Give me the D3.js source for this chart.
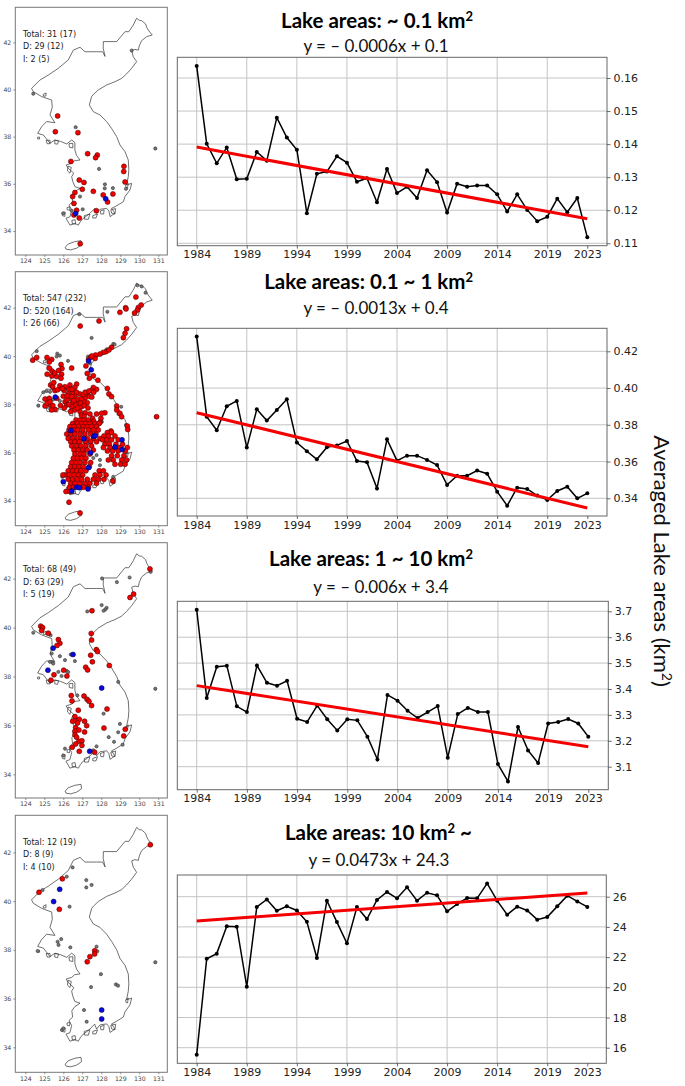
<!DOCTYPE html>
<html><head><meta charset="utf-8">
<script src="https://cdn.jsdelivr.net/npm/d3@7"></script>
<style>html,body{margin:0;padding:0;background:#fff}svg{display:block}</style>
</head><body><svg id="c" width="685" height="1086"></svg>
<script>
const years = d3.range(1984, 2024);
const yearTicks = [1984,1989,1994,1999,2004,2009,2014,2019,2023];
const gridYears = [1984,1989,1994,1999,2004,2009,2014,2019];

const seriesA = [.1636,.1401,.1342,.139,.1294,.1295,.1376,.135,.148,.142,.1383,.1191,.131,.1317,.1363,.1344,.1286,.1297,.1224,.1325,.1252,.1271,.1237,.1321,.1285,.1193,.128,.1271,.1275,.1275,.1248,.1196,.1248,.1201,.1167,.118,.1235,.1194,.1237,.1118];
const seriesB = [.428,.3844,.377,.3901,.393,.3676,.3884,.3823,.3881,.3939,.3703,.3656,.3612,.3678,.3688,.3712,.3603,.3596,.3454,.3721,.3605,.3632,.3632,.3609,.3581,.3473,.3523,.3523,.3551,.3534,.3436,.336,.3458,.3451,.3415,.3391,.344,.3463,.34,.3427];
const seriesC = [3.706,3.365,3.486,3.49,3.333,3.311,3.491,3.424,3.413,3.432,3.285,3.273,3.336,3.283,3.24,3.283,3.279,3.216,3.128,3.377,3.355,3.316,3.288,3.311,3.334,3.135,3.303,3.327,3.311,3.311,3.11,3.043,3.253,3.163,3.114,3.267,3.273,3.284,3.267,3.216];
const seriesD = [15.54,21.89,22.23,24.04,24.01,20.04,25.32,25.82,25.07,25.36,25.09,24.34,21.94,25.74,24.32,22.91,25.32,24.52,25.78,26.31,25.89,26.62,25.74,26.26,26.09,25.03,25.51,25.91,25.89,26.88,25.74,24.81,25.34,25.09,24.48,24.65,25.36,26.07,25.69,25.32];

const trendA = [.1391,.1174], trendB = [.3866,.3347], trendC = [3.413,3.177], trendD = [24.39,26.24];
const ticksA = [.11,.12,.13,.14,.15,.16], ticksB = [.34,.36,.38,.40,.42], ticksC = [3.1,3.2,3.3,3.4,3.5,3.6,3.7], ticksD = [16,18,20,22,24,26];

const coast = [[129.86,43.02],[130.0,42.93],[130.12,42.92],[130.33,42.78],[130.4,42.62],[130.47,42.52],[130.68,42.31],[130.39,42.24],[130.12,42.07],[130.0,41.85],[129.95,41.67],[129.77,41.7],[129.6,41.65],[129.68,41.39],[129.86,41.18],[129.6,40.9],[129.33,40.66],[129.07,40.47],[128.72,40.33],[128.28,40.19],[127.84,39.98],[127.6,39.8],[127.49,39.7],[127.37,39.34],[127.58,39.06],[127.93,38.92],[128.28,38.64],[128.54,38.35],[128.81,38.0],[128.98,37.65],[129.25,37.36],[129.42,37.01],[129.45,36.6],[129.42,36.3],[129.33,35.95],[129.6,36.02],[129.51,35.74],[129.25,35.46],[129.16,35.24],[128.72,35.03],[128.54,34.96],[128.72,34.75],[128.46,34.61],[128.4,34.85],[128.28,34.96],[127.93,34.92],[127.75,34.75],[127.65,34.95],[127.4,34.75],[127.25,34.65],[127.05,34.54],[126.9,34.4],[126.79,34.25],[126.6,34.32],[126.35,34.25],[126.14,34.54],[126.35,34.6],[126.44,34.89],[126.3,35.1],[126.49,35.24],[126.45,35.5],[126.61,35.67],[126.88,35.81],[126.61,35.88],[126.5,36.1],[126.44,36.3],[126.55,36.45],[126.26,36.66],[126.15,36.8],[126.44,36.87],[126.6,36.98],[126.88,37.01],[126.7,37.2],[126.61,37.43],[126.61,37.75],[126.44,37.86],[126.18,37.69],[125.85,37.8],[125.56,37.86],[125.3,37.72],[124.95,38.07],[124.65,38.14],[124.86,38.42],[125.12,38.64],[125.56,38.59],[125.3,38.92],[125.42,39.25],[125.39,39.55],[124.86,39.7],[124.42,39.91],[124.33,40.05],[124.77,40.4],[125.21,40.61],[125.74,40.9],[126.26,41.25],[126.53,41.67],[126.88,41.79],[127.14,41.6],[127.75,41.6],[128.07,41.6],[128.2,41.4],[128.1,41.75],[128.11,42.03],[128.81,42.03],[129.25,42.45],[129.45,42.45],[129.68,42.73]];
const islands = [
 [[126.1,33.31],[126.26,33.45],[126.61,33.55],[126.93,33.59],[126.96,33.41],[126.7,33.27],[126.39,33.2],[126.14,33.23]],
 [[130.8,37.53],[130.9,37.53],[130.9,37.45],[130.8,37.45]],
 [[124.65,37.98],[124.75,37.98],[124.75,37.9],[124.65,37.9]],
 [[125.1,37.85],[125.3,37.85],[125.3,37.7],[125.15,37.7]],
 [[125.55,37.85],[125.75,37.82],[125.7,37.68],[125.55,37.7]],
 [[126.3,37.7],[126.5,37.72],[126.5,37.52],[126.32,37.55]],
 [[126.25,36.75],[126.42,36.7],[126.35,36.45],[126.22,36.55]],
 [[125.93,34.78],[126.1,34.8],[126.08,34.62],[125.95,34.65]],
 [[126.2,35.0],[126.35,35.02],[126.33,34.88],[126.2,34.9]],
 [[126.45,34.45],[126.62,34.48],[126.65,34.3],[126.48,34.3]],
 [[127.1,34.65],[127.4,34.72],[127.32,34.5],[127.12,34.5]],
 [[127.55,34.65],[127.8,34.72],[127.72,34.55],[127.55,34.55]],
 [[127.95,34.85],[128.15,34.9],[128.12,34.72],[127.98,34.72]],
 [[128.5,34.9],[128.75,34.95],[128.72,34.72],[128.55,34.75]],
 [[129.28,35.95],[129.42,36.02],[129.38,35.82],[129.3,35.85]],
 [[124.95,39.8],[125.1,39.85],[125.08,39.72],[124.95,39.72]]
];

const redA = [[125.7,38.88],[125.58,38.21],[126.77,38.17],[127.28,37.28],[127.79,37.22],[127.7,37.11],[126.4,36.95],[129.19,36.74],[129.18,36.52],[129.25,36.08],[126.84,36.16],[127.09,36.06],[127.0,35.77],[127.58,35.68],[126.61,35.63],[126.49,35.46],[128.1,35.53],[128.61,35.57],[126.56,35.17],[128.33,35.23],[126.7,34.88],[127.74,34.86],[126.56,34.68],[126.84,34.55],[126.89,33.46]];
const blueA = [[128.23,35.37],[126.65,34.74]];
const grayA = [[129.6,41.65],[124.42,39.82],[126.65,38.4],[127.88,36.63],[128.19,35.98],[128.18,35.81],[128.61,35.82],[129.3,35.79],[126.88,35.46],[126.44,34.86],[127.02,34.92],[126.0,34.75],[130.84,37.5]];

const redBNorth = [[129.82,42.44],[130.1,42.11],[129.95,42.01],[129.9,41.9],[129.75,41.78],[129.28,42.0],[128.98,41.81],[127.88,41.45],[126.89,41.24],[129.33,41.13],[129.25,40.94],[129.16,40.76],[128.54,40.36],[128.25,40.18],[128.1,40.15],[127.93,40.08],[127.7,40.04],[127.67,39.9],[127.33,39.86],[127.19,39.59],[127.26,39.28],[127.37,39.08],[127.58,39.18],[127.82,39.0],[124.39,39.83],[124.6,39.94],[125.14,39.94],[125.39,39.86],[125.26,39.75],[125.88,39.65],[125.93,39.48],[126.44,39.5],[125.4,39.38],[125.4,39.17],[125.65,39.15],[125.91,39.25],[125.88,39.08],[125.33,38.8],[125.44,38.73],[125.82,38.77],[126.09,38.73],[126.35,38.8],[126.7,38.84],[126.61,38.7],[126.3,38.62],[126.04,38.57],[125.56,38.57],[125.65,38.25],[125.04,38.22],[125.04,37.93],[125.26,38.25],[125.3,37.97],[125.56,37.79],[125.39,37.77],[126.0,38.34],[126.26,38.43],[126.09,38.11],[126.35,38.25],[126.61,38.34],[126.88,38.43],[127.26,38.45],[127.37,38.32],[127.14,38.25],[126.79,38.11],[126.49,38.07],[126.18,37.97],[126.44,37.9],[126.67,37.97],[126.96,37.9],[127.26,38.07],[127.05,38.11],[126.61,37.77],[126.88,37.7],[126.39,37.7],[126.2,38.2],[126.5,38.5],[127.05,38.4],[127.75,38.62],[127.58,38.7],[127.49,38.57],[128.32,38.66],[128.4,38.43],[128.54,38.32],[128.81,37.93],[128.81,37.77],[128.98,37.63],[129.07,37.49],[129.37,37.1],[129.39,36.96],[128.19,37.65],[128.02,37.63],[127.98,37.42],[127.93,37.26],[127.54,37.42],[128.51,36.9],
 [127.45,39.95],[127.5,40.0],[128.4,40.25],[129.3,41.95],[125.25,39.5],[125.15,39.25],[125.55,39.3],[125.75,39.4],[125.5,38.9],[125.7,38.6],[125.95,38.65],[126.2,38.35],[126.45,38.62],[126.45,38.32],[126.7,38.5],[126.75,38.22],[126.95,38.22],[127.15,38.5],[127.35,38.55],[127.5,38.3],[127.6,38.5],[125.15,38.05],[125.45,37.95],[125.3,38.1],[125.85,37.95],[126.05,37.85],[126.3,38.0],[126.55,38.15],[126.9,38.05],[127.1,37.95],[127.3,37.85],[126.75,37.85],[127.4,37.6],[127.15,37.65],[126.95,37.55],[127.75,37.6],[127.6,37.3],[127.1,37.5]];
const redBSouthRows = [
 [37.35,[126.67,126.88,127.09,127.32]],
 [37.21,[126.49,126.74,126.96,127.19,127.4,127.67,127.89]],
 [37.08,[126.35,126.56,126.81,127.05,127.26,127.49,127.75]],
 [36.94,[126.3,126.53,126.75,127.02,127.32,127.58,127.84]],
 [36.77,[126.18,126.39,126.61,126.88,127.14,127.44,127.72]],
 [36.59,[126.26,126.49,126.74,126.96,127.26,127.58,127.93]],
 [36.45,[126.39,126.61,126.84,127.14,127.44,127.75]],
 [36.28,[126.44,126.7,126.93,127.19,127.49]],
 [36.11,[126.56,126.79,127.02,127.26,127.58]],
 [35.94,[126.61,126.88,127.09,127.4]],
 [35.77,[126.53,126.75,126.96,127.19]],
 [35.59,[126.44,126.67,126.88,127.14,127.44]],
 [35.42,[126.39,126.61,126.84,127.05,127.37]],
 [35.25,[126.26,126.49,126.7,126.93,127.19,127.89,128.11]],
 [35.08,[126.09,126.32,126.56,126.79,127.02,127.67,127.93,128.25]],
 [34.9,[126.26,126.49,126.74,126.96,127.26,127.58,127.84,128.14]],
 [34.73,[126.39,126.63,126.88,127.14,127.4,127.75]],
 [34.57,[126.32,126.53,127.05,127.32]],
 [34.39,[126.14,126.35]]
];
const redBEastRows = [
 [36.83,[128.32,128.54]],
 [36.69,[128.14,128.37,128.72]],
 [36.53,[128.07,128.28,128.54,128.89]],
 [36.35,[128.19,128.42,128.77,129.12]],
 [36.21,[128.11,128.46,128.72,128.98,129.37]],
 [36.07,[128.32,128.6,128.89,129.25]],
 [35.87,[128.54,128.84,129.19]],
 [35.7,[128.37,128.63,129.07,129.33]],
 [35.52,[128.72,129.02,129.25]]
];
const redBExtra = [[126.3,33.95],[126.88,33.5],[130.91,37.49],[128.6,34.83],[125.98,35.08]];
const blueB = [[127.33,39.79],[127.47,39.43],[125.58,38.3],[127.09,36.58],[127.6,36.68],[127.68,36.7],[128.72,36.23],[129.09,36.53],[129.1,36.13],[127.44,36.0],[127.33,35.38],[126.0,34.8],[126.45,34.41],[126.7,34.57],[126.85,34.55],[127.3,34.5],[126.4,36.92]];
const grayB = [[129.9,42.93],[130.12,42.88],[130.33,42.62],[128.32,41.83],[126.84,41.73],[127.49,40.75],[128.63,40.5],[128.7,40.48],[124.6,40.2],[125.68,40.1],[126.25,39.8],[125.65,39.98],[125.82,40.02],[124.68,37.95],[125.12,38.55],[124.95,38.5],[125.3,38.52],[125.47,38.2],[125.82,38.14],[128.28,40.28],[127.3,39.98],[127.4,39.7],[128.03,37.28],[129.05,37.9],[129.3,37.15],[127.75,35.9],[127.58,35.78],[127.93,35.7],[127.93,35.48],[128.63,35.0],[125.95,35.0],[127.3,36.4],[128.5,36.1],[128.9,37.6]];

const redC = [[130.56,42.4],[129.7,41.37],[129.51,41.23],[127.51,40.69],[124.81,40.06],[124.91,40.0],[124.86,39.88],[125.21,39.77],[125.74,39.51],[125.82,39.36],[125.67,39.27],[127.47,39.76],[127.49,39.49],[127.74,39.1],[127.8,39.02],[127.44,38.87],[127.53,38.6],[127.18,38.38],[127.28,38.27],[128.42,38.45],[126.02,38.26],[126.19,38.02],[125.51,38.07],[125.35,37.85],[126.42,37.22],[126.46,37.0],[127.09,37.2],[127.25,37.07],[127.35,36.99],[127.49,36.81],[126.79,36.62],[128.3,36.67],[126.61,36.36],[126.49,36.17],[126.67,36.19],[126.84,36.25],[126.75,36.1],[127.12,36.17],[127.23,35.99],[128.14,35.89],[129.26,35.84],[129.18,35.57],[126.65,35.91],[126.82,35.81],[126.61,35.76],[127.12,35.73],[126.61,35.62],[126.7,35.52],[126.82,35.35],[126.98,35.37],[126.65,35.24],[126.47,35.11],[126.98,35.18],[126.84,34.94],[127.65,34.9]];
const blueC = [[125.46,39.16],[126.51,38.9],[125.19,38.26],[128.02,37.53],[127.39,34.94]];
const grayC = [[128.04,42.01],[128.82,41.86],[129.49,42.05],[130.6,42.28],[128.02,40.92],[128.28,40.81],[128.21,40.74],[128.12,40.69],[127.26,40.66],[124.42,39.79],[125.33,39.69],[125.39,38.94],[125.42,38.6],[125.3,38.6],[125.47,38.53],[125.82,38.83],[126.09,38.67],[126.39,38.9],[126.61,38.63],[126.18,38.23],[126.26,38.18],[125.91,38.02],[125.74,38.19],[128.89,37.78],[126.74,37.23],[128.12,36.48],[128.98,36.06],[128.89,35.72],[128.39,35.52],[128.67,35.33],[129.12,35.21],[127.75,35.14],[127.58,34.98],[126.0,34.77],[126.09,35.05],[130.84,37.5]];

const redD = [[130.58,42.31],[125.95,40.91],[124.72,40.36],[125.79,39.66],[127.65,37.96],[127.65,37.83],[127.4,37.72],[127.26,37.51]];
const blueD = [[125.81,40.48],[125.49,39.98],[128.02,35.53],[128.02,35.16]];
const grayD = [[126.49,41.38],[126.18,41.0],[124.91,40.45],[127.21,40.86],[127.49,40.66],[127.21,40.56],[126.33,39.77],[125.89,38.44],[125.7,38.33],[125.75,38.2],[126.37,38.1],[124.65,37.95],[127.75,38.13],[127.79,37.94],[127.98,37.0],[127.46,36.47],[128.77,36.58],[128.88,36.53],[127.09,35.53],[127.23,35.05],[125.93,34.71],[126.0,34.78],[130.84,37.49]];

const flatten = rows => rows.flatMap(([lat, lons]) => lons.map(lon => [lon, lat]));
const redB = redBNorth.concat(flatten(redBSouthRows), flatten(redBEastRows), redBExtra);

const statLines = [
 ["Total: 31 (17)","D: 29 (12)","I: 2 (5)"],
 ["Total: 547 (232)","D: 520 (164)","I: 26 (66)"],
 ["Total: 68 (49)","D: 63 (29)","I: 5 (19)"],
 ["Total: 12 (19)","D: 8 (9)","I: 4 (10)"]
];
const titles = [
 ["Lake areas: ~ 0.1 km","2",""],
 ["Lake areas: 0.1 ~ 1 km","2",""],
 ["Lake areas: 1 ~ 10 km","2",""],
 ["Lake areas: 10 km","2"," ~"]
];
const subtitles = ["y = \u2013 0.0006x + 0.1","y = \u2013 0.0013x + 0.4","y = \u2013 0.006x + 3.4","y = 0.0473x + 24.3"];
const yAxisTitle = "Averaged Lake areas (km";

/* layout */
const panels = [
 {series:seriesA,trend:trendA,ticks:ticksA,fmt:".2f",red:redA,blue:blueA,gray:grayA,
  map:{t:7.3,b:255,lat42:42.3,lat34:231}, plot:{l:177.3,r:607,t:57.3,b:245.7,x0:196.7,x1:587.3,v0:ticksA[0],p0:243.3,v1:ticksA[5],p1:78},
  titleY:28,titleEnd:473,subY:52,subX:376},
 {series:seriesB,trend:trendB,ticks:ticksB,fmt:".2f",red:redB,blue:blueB,gray:grayB,
  map:{t:271.7,b:525.7,lat42:307.7,lat34:501}, plot:{l:177.3,r:607,t:328.3,b:516,x0:196.7,x1:587.3,v0:ticksB[0],p0:498.3,v1:ticksB[4],p1:351.3},
  titleY:289,titleEnd:473,subY:314,subX:376},
 {series:seriesC,trend:trendC,ticks:ticksC,fmt:".1f",red:redC,blue:blueC,gray:grayC,
  map:{t:542.7,b:798,lat42:578.7,lat34:774.3}, plot:{l:177.3,r:608.3,t:601.3,b:789.7,x0:196.7,x1:588.3,v0:ticksC[0],p0:766.7,v1:ticksC[6],p1:611.3},
  titleY:566,titleEnd:473,subY:593,subX:381},
 {series:seriesD,trend:trendD,ticks:ticksD,fmt:"d",red:redD,blue:blueD,gray:grayD,
  map:{t:815.3,b:1072.3,lat42:852.3,lat34:1047.3}, plot:{l:177.3,r:606.3,t:875,b:1063.3,x0:196.7,x1:587.3,v0:ticksD[0],p0:1047.7,v1:ticksD[5],p1:896.7},
  titleY:840,titleEnd:472,subY:865.5,subX:379}
];
const mapX = {l:15.3,r:167.3,p124:25.3,p131:158.3};
const DJ = "'DejaVu Sans',sans-serif", LT = "Lato,'Open Sans',sans-serif";
const svg = d3.select("#c");

panels.forEach((P,i)=>{
  const M = P.map;
  const gm = svg.append("g");
  const lon = d3.scaleLinear().domain([124,131]).range([mapX.p124,mapX.p131]);
  const lat = d3.scaleLinear().domain([34,42]).range([M.lat34,M.lat42]);
  const line = d3.line().x(d=>lon(d[0])).y(d=>lat(d[1]));
  gm.selectAll("path.land").data([coast].concat(islands)).join("path")
    .attr("class","land").attr("d",d=>line(d)+"Z").attr("fill","none").attr("stroke","#333").attr("stroke-width",0.7);
  const dots = (data,r,fill,sw,stroke) => gm.append("g").selectAll("circle").data(data).join("circle")
    .attr("cx",d=>lon(d[0])).attr("cy",d=>lat(d[1])).attr("r",r).attr("fill",fill).attr("stroke",stroke).attr("stroke-width",sw);
  dots(P.gray,1.6,"#777",0.6,"#333");
  dots(P.red,2.5,"#f20000",0.5,"#300");
  dots(P.blue,2.5,"#0808e0",0.5,"#003");
  gm.append("rect").attr("x",mapX.l).attr("y",M.t).attr("width",mapX.r-mapX.l).attr("height",M.b-M.t)
    .attr("fill","none").attr("stroke","#777").attr("stroke-width",1);
  const ax = gm.append("g").attr("transform",`translate(0,${M.b})`)
    .call(d3.axisBottom(lon).tickValues(d3.range(124,132)).tickSize(2).tickPadding(2).tickFormat(d3.format("d")));
  const ay = gm.append("g").attr("transform",`translate(${mapX.l},0)`)
    .call(d3.axisLeft(lat).tickValues([34,36,38,40,42]).tickSize(2).tickPadding(2).tickFormat(d3.format("d")));
  [ax,ay].forEach(a=>{a.select(".domain").remove();a.selectAll("line").attr("stroke","#555").attr("stroke-width",.6);
    a.selectAll("text").attr("font-family",DJ).attr("font-size",6.2).attr("fill","#444");});
  gm.append("g").selectAll("text").data(statLines[i]).join("text")
    .attr("x",23).attr("y",(d,k)=>M.t+29.5+k*12.5).attr("font-family",DJ).attr("font-size",8).attr("fill","#222").text(d=>d);

  const L = P.plot;
  const g = svg.append("g");
  const x = d3.scaleLinear().domain([years[0],years[years.length-1]]).range([L.x0,L.x1]);
  const y = d3.scaleLinear().domain([L.v0,L.v1]).range([L.p0,L.p1]);
  g.append("g").selectAll("line.v").data(gridYears).join("line").attr("class","v")
    .attr("x1",d=>x(d)).attr("x2",d=>x(d)).attr("y1",L.t).attr("y2",L.b).attr("stroke","#c4c4c4").attr("stroke-width",1);
  g.append("g").selectAll("line.h").data(P.ticks).join("line").attr("class","h")
    .attr("y1",d=>y(d)).attr("y2",d=>y(d)).attr("x1",L.l).attr("x2",L.r).attr("stroke","#c4c4c4").attr("stroke-width",1);
  const pts = years.map((yr,k)=>[yr,P.series[k]]);
  g.append("path").attr("d",d3.line().x(d=>x(d[0])).y(d=>y(d[1]))(pts)).attr("fill","none").attr("stroke","#000").attr("stroke-width",1.5);
  g.append("g").selectAll("circle").data(pts).join("circle").attr("cx",d=>x(d[0])).attr("cy",d=>y(d[1])).attr("r",2).attr("fill","#000");
  g.append("line").attr("x1",x(years[0])).attr("x2",x(years[39])).attr("y1",y(P.trend[0])).attr("y2",y(P.trend[1]))
    .attr("stroke","#f50000").attr("stroke-width",3);
  g.append("rect").attr("x",L.l).attr("y",L.t).attr("width",L.r-L.l).attr("height",L.b-L.t).attr("fill","none").attr("stroke","#666").attr("stroke-width",1);
  const bx = g.append("g").attr("transform",`translate(0,${L.b})`)
    .call(d3.axisBottom(x).tickValues(yearTicks).tickSize(3).tickPadding(2).tickFormat(d3.format("d")));
  const by = g.append("g").attr("transform",`translate(${L.r},0)`)
    .call(d3.axisRight(y).tickValues(P.ticks).tickSize(3.5).tickPadding(3).tickFormat(d3.format(P.fmt)));
  [bx,by].forEach(a=>{a.select(".domain").remove();a.selectAll("line").attr("stroke","#444").attr("stroke-width",.8);
    a.selectAll("text").attr("font-family",DJ).attr("font-size",11).attr("fill","#222");});

  const t = titles[i];
  const tt = g.append("text").attr("x",P.titleEnd).attr("y",P.titleY).attr("text-anchor","end")
    .attr("font-family",LT).attr("font-weight",700).attr("font-size",20.5).attr("fill","#000");
  tt.append("tspan").text(t[0]);
  tt.append("tspan").attr("font-size",13).attr("dy",-7).text(t[1]);
  if(t[2]) tt.append("tspan").attr("dy",7).text(t[2]);
  g.append("text").attr("x",P.subX).attr("y",P.subY).attr("text-anchor","middle")
    .attr("font-family",LT).attr("font-size",17).attr("fill","#111").text(subtitles[i]);
});

const yt = svg.append("text").attr("transform","translate(654,561) rotate(90)").attr("text-anchor","middle")
  .attr("font-family",LT).attr("font-size",22).attr("fill","#111");
yt.append("tspan").text(yAxisTitle);
yt.append("tspan").attr("font-size",14).attr("dy",-8).text("2");
yt.append("tspan").attr("dy",8).text(")");
</script></body></html>
